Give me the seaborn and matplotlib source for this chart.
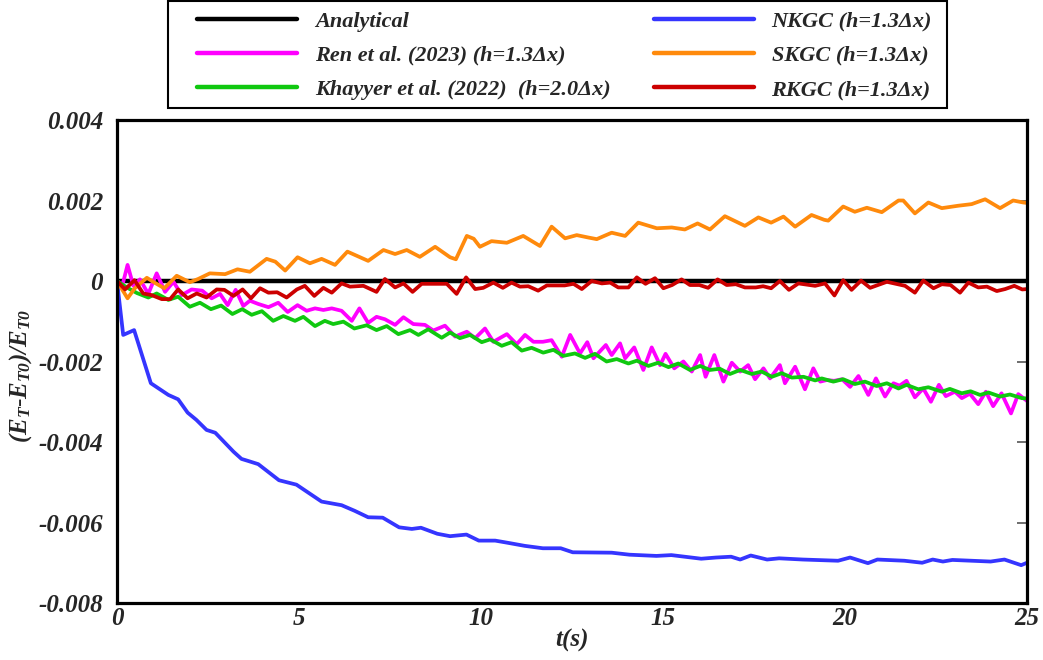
import numpy as np
import pandas as pd
import matplotlib
matplotlib.use("Agg")
import matplotlib.pyplot as plt
from matplotlib.patches import Rectangle
import seaborn as sns

# ---------------- data (values in units of 1e-3) ----------------
t_analytical = [0.0, 25.0]
v_analytical = [0.0, 0.0]

t_ren = [0.0, 0.15, 0.29, 0.45, 0.63, 0.86, 1.09, 1.32, 1.55, 1.78, 2.05, 2.34, 2.60, 2.83, 3.04,
         3.26, 3.47, 3.65, 3.88, 4.16, 4.43, 4.69, 4.96, 5.21, 5.44, 5.67, 5.90, 6.17, 6.45,
         6.66, 6.90, 7.13, 7.36, 7.64, 7.87, 8.14, 8.46, 8.69, 9.01, 9.29, 9.61, 9.84, 10.11,
         10.34, 10.71, 10.98, 11.21, 11.44, 11.70, 11.94, 12.22, 12.45, 12.72, 12.92, 13.09,
         13.43, 13.59, 13.82, 13.96, 14.21, 14.46, 14.69, 14.92, 15.07, 15.31, 15.56, 15.79,
         16.02, 16.17, 16.41, 16.66, 16.89, 17.12, 17.34, 17.53, 17.76, 17.94, 18.21, 18.35,
         18.63, 18.90, 19.13, 19.32, 19.50, 19.70, 19.92, 20.14, 20.37, 20.64, 20.85, 21.10,
         21.33, 21.50, 21.69, 21.92, 22.15, 22.36, 22.58, 22.77, 23.02, 23.21, 23.43, 23.66,
         23.87, 24.07, 24.30, 24.56, 24.76, 25.0]
v_ren = [0.0, -0.10, 0.40, -0.12, 0.04, -0.32, 0.19, -0.27, -0.02, -0.35, -0.21, -0.24, -0.43,
         -0.32, -0.60, -0.22, -0.62, -0.49, -0.57, -0.65, -0.54, -0.77, -0.60, -0.74, -0.68,
         -0.72, -0.68, -0.74, -0.99, -0.68, -1.04, -0.89, -0.95, -1.09, -0.90, -1.07, -1.09,
         -1.23, -1.11, -1.38, -1.26, -1.42, -1.18, -1.51, -1.32, -1.57, -1.34, -1.51, -1.51,
         -1.47, -1.88, -1.34, -1.80, -1.52, -1.92, -1.59, -1.84, -1.55, -1.92, -1.65, -2.21,
         -1.65, -2.09, -1.81, -2.17, -2.00, -2.25, -1.84, -2.38, -1.84, -2.50, -2.03, -2.25,
         -2.09, -2.44, -2.17, -2.42, -2.09, -2.54, -2.13, -2.69, -2.17, -2.50, -2.46, -2.48,
         -2.44, -2.63, -2.36, -2.83, -2.42, -2.87, -2.54, -2.60, -2.48, -2.89, -2.67, -3.00,
         -2.58, -2.86, -2.75, -2.91, -2.80, -3.06, -2.75, -3.11, -2.79, -3.29, -2.81, -2.98]

t_khayyer = [0.0, 0.27, 0.55, 0.86, 1.09, 1.41, 1.68, 2.00, 2.28, 2.58, 2.86, 3.17, 3.44, 3.70,
             3.98, 4.29, 4.57, 4.89, 5.12, 5.44, 5.71, 5.94, 6.22, 6.52, 6.86, 7.13, 7.41,
             7.73, 8.05, 8.28, 8.55, 8.92, 9.15, 9.42, 9.70, 10.02, 10.25, 10.57, 10.84, 11.12,
             11.39, 11.71, 11.99, 12.26, 12.58, 12.86, 13.13, 13.45, 13.73, 14.05, 14.28, 14.60,
             14.87, 15.15, 15.42, 15.74, 16.02, 16.29, 16.56, 16.84, 17.12, 17.44, 17.71, 17.99,
             18.26, 18.54, 18.86, 19.18, 19.36, 19.68, 19.95, 20.27, 20.55, 20.87, 21.15, 21.47,
             21.69, 22.01, 22.29, 22.66, 22.88, 23.21, 23.45, 23.71, 23.94, 24.26, 24.53, 24.86,
             25.0]
v_khayyer = [0.0, -0.16, -0.30, -0.41, -0.31, -0.47, -0.39, -0.64, -0.54, -0.70, -0.61, -0.82,
             -0.70, -0.84, -0.75, -0.99, -0.87, -0.99, -0.89, -1.12, -0.99, -1.07, -1.01, -1.18,
             -1.10, -1.22, -1.12, -1.32, -1.22, -1.34, -1.20, -1.41, -1.28, -1.42, -1.34, -1.52,
             -1.45, -1.61, -1.52, -1.73, -1.66, -1.78, -1.71, -1.86, -1.80, -1.91, -1.81, -2.00,
             -1.94, -2.05, -1.98, -2.11, -2.03, -2.14, -2.05, -2.21, -2.11, -2.21, -2.18, -2.31,
             -2.21, -2.31, -2.25, -2.38, -2.29, -2.40, -2.38, -2.47, -2.42, -2.50, -2.44, -2.56,
             -2.50, -2.61, -2.54, -2.67, -2.58, -2.69, -2.64, -2.75, -2.68, -2.79, -2.74, -2.83,
             -2.77, -2.87, -2.82, -2.91, -2.92]

t_nkgc = [0.0, 0.17, 0.47, 0.93, 1.41, 1.68, 1.94, 2.18, 2.46, 2.70, 3.20, 3.42, 3.60, 3.88,
          4.45, 4.93, 5.62, 6.17, 6.53, 6.90, 7.30, 7.75, 8.10, 8.35, 8.80, 9.15, 9.60, 9.94,
          10.39, 10.71, 11.20, 11.70, 12.19, 12.52, 13.59, 14.08, 14.82, 15.23, 16.05, 16.46,
          16.87, 17.12, 17.41, 17.86, 18.19, 18.84, 19.81, 20.14, 20.63, 20.89, 21.63, 22.12,
          22.41, 22.69, 22.95, 24.00, 24.38, 24.84, 25.0]
v_nkgc = [0.0, -1.34, -1.22, -2.54, -2.83, -2.94, -3.27, -3.45, -3.70, -3.77, -4.24, -4.42,
          -4.47, -4.55, -4.95, -5.06, -5.48, -5.57, -5.71, -5.87, -5.88, -6.12, -6.16, -6.13,
          -6.28, -6.34, -6.30, -6.45, -6.45, -6.50, -6.58, -6.64, -6.64, -6.74, -6.75, -6.80,
          -6.83, -6.81, -6.90, -6.87, -6.85, -6.92, -6.82, -6.92, -6.89, -6.92, -6.95, -6.87,
          -7.01, -6.92, -6.95, -7.00, -6.92, -6.97, -6.93, -6.97, -6.92, -7.06, -7.00]

t_skgc = [0.0, 0.29, 0.49, 0.82, 1.03, 1.30, 1.64, 2.00, 2.23, 2.55, 2.97, 3.31, 3.65, 4.11,
          4.35, 4.62, 4.96, 5.30, 5.62, 5.99, 6.33, 6.90, 7.32, 7.64, 7.96, 8.32, 8.74, 9.15,
          9.31, 9.61, 9.80, 9.97, 10.29, 10.71, 11.16, 11.62, 11.94, 12.31, 12.63, 12.95,
          13.18, 13.59, 13.96, 14.32, 14.83, 15.24, 15.60, 15.95, 16.29, 16.70, 17.25, 17.62,
          17.97, 18.31, 18.63, 19.08, 19.43, 19.54, 19.95, 20.27, 20.60, 21.01, 21.47, 21.60,
          21.92, 22.29, 22.66, 23.11, 23.48, 23.85, 24.26, 24.62, 24.90, 25.0]
v_skgc = [0.0, -0.43, -0.18, 0.08, -0.04, -0.18, 0.13, -0.03, 0.05, 0.19, 0.17, 0.29, 0.23,
          0.55, 0.48, 0.26, 0.59, 0.44, 0.55, 0.40, 0.73, 0.50, 0.77, 0.67, 0.77, 0.60, 0.85,
          0.59, 0.54, 1.12, 1.05, 0.85, 0.99, 0.95, 1.12, 0.87, 1.35, 1.06, 1.14, 1.08, 1.04,
          1.20, 1.12, 1.45, 1.31, 1.33, 1.28, 1.43, 1.28, 1.61, 1.37, 1.58, 1.45, 1.60, 1.35,
          1.64, 1.52, 1.50, 1.85, 1.72, 1.82, 1.71, 2.00, 2.00, 1.68, 1.95, 1.81, 1.87, 1.91,
          2.03, 1.81, 2.00, 1.95, 1.94]

t_rkgc = [0.0, 0.22, 0.48, 0.72, 0.95, 1.23, 1.46, 1.68, 1.94, 2.19, 2.46, 2.74, 2.95, 3.20,
          3.45, 3.68, 3.93, 4.16, 4.40, 4.66, 4.94, 5.16, 5.42, 5.67, 5.90, 6.17, 6.40, 6.77,
          7.13, 7.36, 7.64, 7.87, 8.12, 8.37, 9.06, 9.33, 9.59, 9.84, 10.06, 10.34, 10.60,
          10.84, 11.07, 11.30, 11.57, 11.81, 12.30, 12.54, 12.77, 13.04, 13.32, 13.55, 13.77,
          14.05, 14.28, 14.52, 14.78, 15.01, 15.25, 15.51, 15.74, 16.00, 16.24, 16.50, 16.75,
          17.00, 17.25, 17.55, 17.75, 17.97, 18.21, 18.46, 18.72, 19.18, 19.45, 19.71, 19.95,
          20.18, 20.44, 20.69, 21.15, 21.40, 21.65, 21.92, 22.15, 22.43, 22.66, 22.90, 23.16,
          23.39, 23.66, 23.90, 24.17, 24.40, 24.65, 24.87, 25.0]
v_rkgc = [0.0, -0.21, 0.02, -0.31, -0.35, -0.45, -0.45, -0.21, -0.43, -0.31, -0.41, -0.21,
          -0.22, -0.37, -0.21, -0.43, -0.18, -0.29, -0.28, -0.41, -0.21, -0.12, -0.37, -0.17,
          -0.29, -0.06, -0.14, -0.12, -0.27, 0.05, -0.16, -0.06, -0.27, -0.07, -0.07, -0.32,
          0.09, -0.20, -0.17, -0.04, -0.17, -0.04, -0.14, -0.13, -0.24, -0.11, -0.11, -0.07,
          -0.20, 0.00, -0.06, -0.04, -0.16, -0.16, 0.09, -0.07, 0.07, -0.18, -0.10, 0.04,
          -0.10, -0.10, -0.17, 0.04, -0.10, -0.08, -0.16, -0.16, -0.13, -0.18, 0.00, -0.22,
          -0.06, -0.12, -0.06, -0.36, 0.02, -0.22, 0.01, -0.17, -0.02, -0.07, -0.12, -0.29,
          0.01, -0.18, -0.08, -0.10, -0.29, -0.04, -0.16, -0.14, -0.25, -0.20, -0.12, -0.21,
          -0.20]

x_ticks = [0, 5, 10, 15, 20, 25]
y_ticks = [-0.008, -0.006, -0.004, -0.002, 0.0, 0.002, 0.004]
y_tick_labels = ["-0.008", "-0.006", "-0.004", "-0.002", "0", "0.002", "0.004"]

series = [
    ("Analytical", t_analytical, v_analytical, "#000000", 3.2),
    (r"Ren et al. (2023) (h=1.3Δx)", t_ren, v_ren, "#ff00ff", 2.7),
    (r"Khayyer et al. (2022)  (h=2.0Δx)", t_khayyer, v_khayyer, "#10c810", 2.7),
    (r"NKGC (h=1.3Δx)", t_nkgc, v_nkgc, "#3535ff", 2.7),
    (r"SKGC (h=1.3Δx)", t_skgc, v_skgc, "#ff8a0c", 2.7),
    (r"RKGC (h=1.3Δx)", t_rkgc, v_rkgc, "#cc0000", 2.7),
]

# ---------------- style ----------------
sns.set_style("white")
plt.rcParams["font.family"] = ["Liberation Serif", "DejaVu Serif"]
plt.rcParams["font.weight"] = "bold"
plt.rcParams["font.style"] = "italic"
plt.rcParams["mathtext.fontset"] = "custom"
plt.rcParams["mathtext.rm"] = "Liberation Serif:italic:bold"
plt.rcParams["mathtext.it"] = "Liberation Serif:italic:bold"
plt.rcParams["mathtext.bf"] = "Liberation Serif:italic:bold"

W, H = 1043, 660
fig = plt.figure(figsize=(W / 100, H / 100), dpi=100)
ax = fig.add_axes([117 / W, 1 - 603 / H, (1027 - 117) / W, (603 - 120) / H])

handles = []
for name, tt, vv, col, lw in series:
    df = pd.DataFrame({"t": tt, "v": np.array(vv) * 1e-3})
    sns.lineplot(data=df, x="t", y="v", ax=ax, color=col, lw=lw, label=name,
                 estimator=None, sort=False, legend=False)
    handles.append(ax.lines[-1])

ax.set_xlim(0, 25)
ax.set_ylim(-0.008, 0.004)
ax.set_xticks(x_ticks)
ax.set_xticklabels([str(x) for x in x_ticks])
ax.set_yticks(y_ticks)
ax.set_yticklabels(y_tick_labels)
ax.tick_params(axis="both", direction="in", length=7, width=1.2, color="#555555",
               top=False, right=True, labelsize=18)
ax.tick_params(axis="y", pad=10)
ax.tick_params(axis="x", pad=3)
for lab in ax.get_xticklabels() + ax.get_yticklabels():
    lab.set_fontweight("bold")
    lab.set_fontstyle("italic")
for sp in ax.spines.values():
    sp.set_linewidth(2.3)
    sp.set_color("black")

ax.set_xlabel("t(s)", fontsize=18, fontweight="bold", fontstyle="italic", labelpad=-1)
ax.set_ylabel(r"$(E_T$-$E_{T0})/E_{T0}$", fontsize=18)
ax.yaxis.set_label_coords(-0.091, 0.47)

# legend (frame drawn separately as a box above the axes)
leg = fig.legend(handles=handles, labels=[s[0] for s in series], ncol=2,
                 loc="upper left", bbox_to_anchor=(197 / W, 1 - 11 / H),
                 fontsize=16, frameon=False,
                 handlelength=4.5, handletextpad=0.8, columnspacing=1.95,
                 labelspacing=0.62, borderpad=0.0, borderaxespad=0.0)
for txt in leg.get_texts():
    txt.set_fontweight("bold")
    txt.set_fontstyle("italic")
for lh in leg.get_lines():
    lh.set_linewidth(3.2)
fig.add_artist(Rectangle((168 / W, 1 - 108 / H), (947 - 168) / W, 107 / H,
                         transform=fig.transFigure, fill=False, edgecolor="black",
                         linewidth=1.5))

fig.savefig("out.png", dpi=100)
